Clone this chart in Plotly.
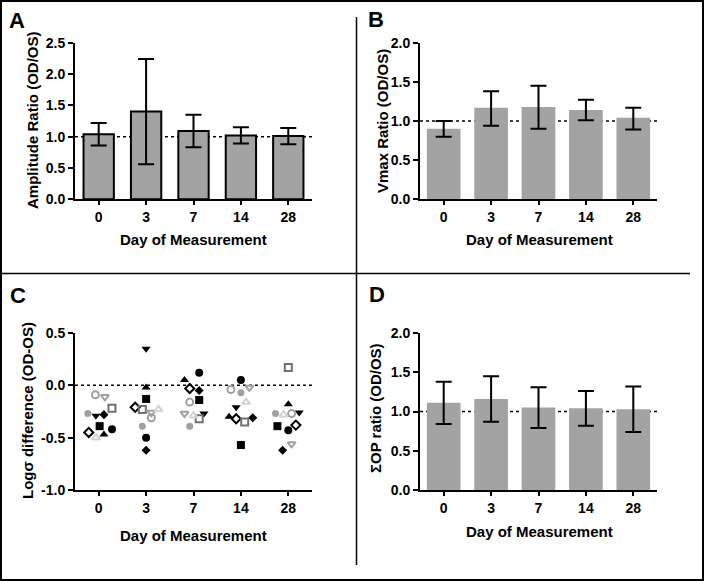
import plotly.graph_objects as go

W, H = 705, 582

days = ["0", "3", "7", "14", "28"]

# A: amplitude ratio, mean +/- error
amp_mean = [1.04, 1.40, 1.09, 1.02, 1.01]
amp_err = [0.18, 0.84, 0.26, 0.13, 0.13]

# B: Vmax ratio
vmax_mean = [0.90, 1.17, 1.18, 1.14, 1.04]
vmax_err_up = [0.10, 0.21, 0.27, 0.13, 0.13]
vmax_err_dn = [0.10, 0.23, 0.28, 0.13, 0.15]

# D: sum of OP ratio
op_mean = [1.11, 1.16, 1.05, 1.04, 1.03]
op_err = [0.27, 0.29, 0.26, 0.22, 0.29]

# C: log sigma difference per subject (days 0, 3, 7, 14, 28)
logsig_s1 = [-0.42, -0.50, 0.12, 0.05, -0.43]
logsig_s2 = [-0.39, -0.13, -0.14, -0.57, -0.39]
logsig_s3 = [-0.47, -0.02, 0.05, -0.30, -0.18]
logsig_s4 = [-0.29, 0.35, -0.27, -0.21, -0.26]
logsig_s5 = [-0.28, -0.62, -0.05, -0.31, -0.62]
logsig_s6 = [-0.45, -0.21, -0.03, -0.32, -0.38]
logsig_s7 = [-0.09, -0.31, -0.16, -0.04, -0.27]
logsig_s8 = [-0.11, -0.26, -0.27, -0.02, -0.56]
logsig_s9 = [-0.22, -0.23, -0.32, -0.35, 0.17]
logsig_s10 = [-0.27, -0.39, -0.39, -0.07, -0.27]
logsig_s11 = [-0.50, -0.23, -0.29, -0.16, -0.28]

ratio_ticks = [0.0, 0.5, 1.0, 1.5, 2.0]
ratio_ticks_a = [0.0, 0.5, 1.0, 1.5, 2.0, 2.5]
logsig_ticks = [-1.0, -0.5, 0.0, 0.5]

# ---------------------------------------------------------------------------
# styling
# ---------------------------------------------------------------------------

FONT = "Liberation Sans, Arial, sans-serif"
BAR_GREY = "#a3a3a3"

# horizontal scatter offsets of each subject inside its day column (panel C)
jitter = [
    [0.28, 0.00, 0.12, 0.00, 0.00],
    [0.02, 0.00, 0.12, 0.00, -0.23],
    [0.11, 0.00, -0.19, -0.25, 0.00],
    [-0.06, 0.00, 0.22, -0.10, 0.23],
    [0.11, 0.00, 0.12, 0.25, -0.12],
    [-0.21, -0.23, -0.08, -0.10, 0.16],
    [-0.07, 0.11, -0.08, -0.21, 0.07],
    [0.13, 0.11, -0.19, 0.18, 0.07],
    [0.28, -0.08, 0.12, 0.08, 0.00],
    [-0.23, -0.08, -0.08, 0.00, -0.27],
    [-0.06, 0.26, 0.00, 0.11, -0.10],
]
subject_styles = [
    ("circle", "black", 8),
    ("square", "black", 8),
    ("triangle-up", "black", 8),
    ("triangle-down", "black", 8),
    ("diamond", "black", 7),
    ("diamond-open", "black", 7),
    ("circle-open", "#a0a0a0", 7),
    ("triangle-down-open", "#a0a0a0", 7),
    ("square-open", "#707070", 7),
    ("circle", "#a0a0a0", 7),
    ("triangle-up-open", "#d3d3d3", 7),
]
logsig_all = [logsig_s1, logsig_s2, logsig_s3, logsig_s4, logsig_s5, logsig_s6,
              logsig_s7, logsig_s8, logsig_s9, logsig_s10, logsig_s11]


def px_x(v):
    return v / W


def px_y(v):
    return 1 - v / H


idx = list(range(len(days)))
fig = go.Figure()

err_style = dict(type="data", color="black", thickness=2, width=8)

fig.add_trace(go.Bar(
    x=idx, y=amp_mean, width=0.64, xaxis="x", yaxis="y",
    marker=dict(color=BAR_GREY, line=dict(color="black", width=2)),
    error_y=dict(array=amp_err, **err_style),
))
fig.add_trace(go.Bar(
    x=idx, y=vmax_mean, width=0.71, xaxis="x2", yaxis="y2",
    marker=dict(color=BAR_GREY, line=dict(width=0)),
    error_y=dict(array=vmax_err_up, arrayminus=vmax_err_dn, symmetric=False, **err_style),
))
fig.add_trace(go.Bar(
    x=idx, y=op_mean, width=0.71, xaxis="x4", yaxis="y4",
    marker=dict(color=BAR_GREY, line=dict(width=0)),
    error_y=dict(array=op_err, **err_style),
))

for vals, offs, (sym, col, size) in zip(logsig_all, jitter, subject_styles):
    fig.add_trace(go.Scatter(
        x=[i + o for i, o in zip(idx, offs)], y=vals, mode="markers",
        xaxis="x3", yaxis="y3",
        marker=dict(symbol=sym, color=col, size=size,
                    line=dict(color=col, width=2 if "open" in sym else 0)),
    ))

# reference lines (dotted, behind the data)
for xr, yr, level in [("x", "y", 1.0), ("x2", "y2", 1.0), ("x3", "y3", 0.0), ("x4", "y4", 1.0)]:
    fig.add_shape(type="line", xref=xr, yref=yr, x0=-0.5, x1=4.5, y0=level, y1=level,
                  line=dict(color="black", width=1.5, dash="dot"), layer="below")

# frame and dividers
fig.add_shape(type="rect", xref="paper", yref="paper",
              x0=px_x(1), x1=px_x(703), y0=px_y(580), y1=px_y(1),
              line=dict(color="black", width=2))
fig.add_shape(type="line", xref="paper", yref="paper",
              x0=px_x(356.5), x1=px_x(356.5), y0=px_y(17), y1=px_y(565),
              line=dict(color="black", width=1.5))
fig.add_shape(type="line", xref="paper", yref="paper",
              x0=px_x(0), x1=px_x(690), y0=px_y(273.5), y1=px_y(273.5),
              line=dict(color="black", width=1.5))

tick_font = dict(family=FONT, size=14, color="black", weight="bold")
title_font = dict(family=FONT, size=15, color="black", weight="bold")


def x_axis(dom, anchor):
    return dict(
        domain=dom, anchor=anchor, range=[-0.5, 4.5], automargin=False,
        tickvals=idx, ticktext=days, ticks="outside", ticklen=4, tickwidth=2,
        tickcolor="black", showline=True, linecolor="black", linewidth=2,
        showgrid=False, zeroline=False, tickfont=tick_font,
    )


def y_axis(dom, anchor, rng, ticks):
    return dict(
        domain=dom, anchor=anchor, range=rng, automargin=False,
        tickvals=ticks, ticktext=[f"{t:.1f}" for t in ticks],
        ticks="outside", ticklen=5, tickwidth=2, tickcolor="black",
        showline=True, linecolor="black", linewidth=2,
        showgrid=False, zeroline=False, tickfont=tick_font,
    )


left_dom = [px_x(75), px_x(312)]
right_dom = [px_x(420), px_x(657)]
top_dom = [px_y(199.3), px_y(42.7)]
bot_dom = [px_y(490), px_y(333)]

fig.update_layout(
    width=W, height=H, margin=dict(l=0, r=0, t=0, b=0, autoexpand=False),
    paper_bgcolor="white", plot_bgcolor="white", showlegend=False,
    font=dict(family=FONT, color="black"),
    xaxis=x_axis(left_dom, "y"),
    yaxis=y_axis(top_dom, "x", [0, 2.5], ratio_ticks_a),
    xaxis2=x_axis(right_dom, "y2"),
    yaxis2=y_axis(top_dom, "x2", [0, 2.0], ratio_ticks),
    xaxis3=x_axis(left_dom, "y3"),
    yaxis3=y_axis(bot_dom, "x3", [-1.0, 0.5], logsig_ticks),
    xaxis4=x_axis(right_dom, "y4"),
    yaxis4=y_axis(bot_dom, "x4", [0, 2.0], ratio_ticks),
)

# axis titles placed as paper annotations
titles = [
    ("Amplitude Ratio (OD/OS)", 33, 120, -90),
    ("Vmax Ratio (OD/OS)", 382, 121, -90),
    ("Logσ difference (OD-OS)", 27, 411, -90),
    ("ΣOP ratio (OD/OS)", 375, 408, -90),
    ("Day of Measurement", 193, 239, 0),
    ("Day of Measurement", 539, 239, 0),
    ("Day of Measurement", 193, 535, 0),
    ("Day of Measurement", 539, 531, 0),
]
for text, tx, ty, angle in titles:
    fig.add_annotation(text=text, x=px_x(tx), y=px_y(ty), xref="paper", yref="paper",
                       showarrow=False, xanchor="center", yanchor="middle",
                       textangle=angle, font=title_font)

for letter, lx, ly in [("A", 17, 21), ("B", 376, 20), ("C", 17.5, 295), ("D", 377, 294)]:
    fig.add_annotation(text=letter, x=px_x(lx), y=px_y(ly), xref="paper", yref="paper",
                       showarrow=False, xanchor="center", yanchor="middle",
                       font=dict(family=FONT, size=22, color="black", weight="bold"))

page_reset = (
    "document.documentElement.style.margin='0';"
    "document.body.style.margin='0';"
    "document.body.style.overflow='hidden';"
)
fig.write_html("out.html", config={"displayModeBar": False}, post_script=page_reset)
